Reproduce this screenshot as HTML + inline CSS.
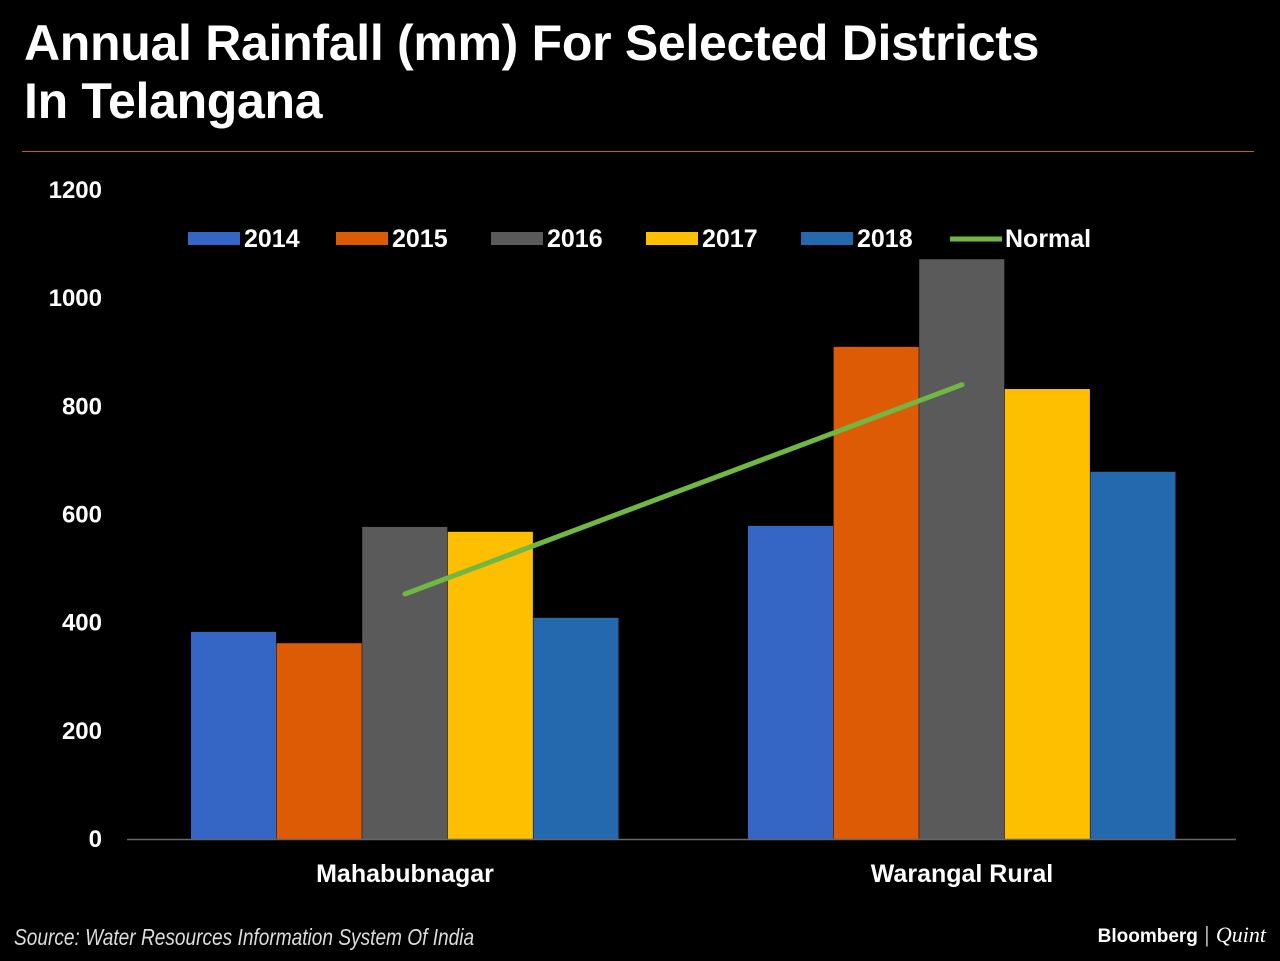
<!DOCTYPE html>
<html><head><meta charset="utf-8">
<style>
html,body{margin:0;padding:0;background:#000;width:1280px;height:961px;overflow:hidden}
body{font-family:"Liberation Sans Narrow","Liberation Sans",sans-serif;color:#fff}
#title{position:absolute;left:24px;top:14px;font-size:50px;font-weight:bold;line-height:58px;letter-spacing:-0.3px;transform:scaleX(1.0);transform-origin:left top;white-space:nowrap}
#rule{position:absolute;left:22px;top:151px;width:1232px;height:1px;background:#c8552a}
#source{position:absolute;left:14px;top:924px;font-size:23px;font-style:italic;color:#ddd;transform:scaleX(0.83);transform-origin:left top;white-space:nowrap}
#brand{position:absolute;right:14px;top:922px;font-size:22px;color:#fff;white-space:nowrap}
</style></head><body>
<div id="title">Annual Rainfall (mm) For Selected Districts<br>In Telangana</div>
<div id="rule"></div>
<svg id="chart" width="1280" height="961" style="position:absolute;left:0;top:0"></svg>
<div id="source">Source: Water Resources Information System Of India</div>
<div id="brand"><b style="font-family:'Liberation Sans',sans-serif;font-size:19px">Bloomberg</b> <span style="color:#aaa">|</span> <i style="font-family:'Liberation Serif',serif">Quint</i></div>
<script>
const categories=["Mahabubnagar","Warangal Rural"];
const seriesNames=["2014","2015","2016","2017","2018"];
const s2014=[383,579];
const s2015=[362,910];
const s2016=[577,1072];
const s2017=[568,832];
const s2018=[409,679];
const normal=[453,840];
const yTicks=[0,200,400,600,800,1000,1200];
const colors=["#3566c6","#de5b06","#5a5a5a","#fdbf00","#2468ae"];
const series=[s2014,s2015,s2016,s2017,s2018];
const svg=document.getElementById('chart');
const NS="http://www.w3.org/2000/svg";
const x0=126.5,x1=1240.5,axisEnd=1236,yBase=839,yTop=190;
function y(v){return yBase-(v/1200)*(yBase-yTop);}
const band=(x1-x0)/categories.length;
function cx(i){return x0+band*(i+0.5);}
const groupW=428,barW=groupW/series.length;
function mk(tag,attrs){const e=document.createElementNS(NS,tag);for(const k in attrs)e.setAttribute(k,attrs[k]);svg.appendChild(e);return e;}
yTicks.forEach(t=>{const e=mk('text',{x:102,y:y(t)+8,'text-anchor':'end','font-size':24,'font-weight':'bold',fill:'#fff','font-family':'Liberation Sans,sans-serif'});e.textContent=t;

});
series.forEach((s,si)=>{s.forEach((v,ci)=>{const r=mk('rect',{x:cx(ci)-groupW/2+si*barW,y:y(v),width:barW-0.5,height:yBase-y(v),fill:colors[si]});

});});
const ax=mk('line',{x1:127,y1:yBase+0.5,x2:axisEnd,y2:yBase+0.5,stroke:'#666','stroke-width':1.5});


const pl=mk('polyline',{points:normal.map((v,i)=>cx(i)+','+y(v)).join(' '),fill:'none',stroke:'#70b843','stroke-width':5,'stroke-linecap':'round'});


categories.forEach((c,i)=>{const e=mk('text',{x:cx(i),y:882,'text-anchor':'middle','font-size':25,'font-weight':'bold',fill:'#fff','font-family':'Liberation Sans,sans-serif'});e.textContent=c;

});
const legX=[188,336,491,646,801];
seriesNames.forEach((n,i)=>{const r=mk('rect',{x:legX[i],y:232,width:52,height:13,fill:colors[i]});


const t=mk('text',{x:legX[i]+56,y:247,'font-size':25,'font-weight':'bold',fill:'#fff','font-family':'Liberation Sans,sans-serif'});t.textContent=n;

});
const ll=mk('line',{x1:950,y1:239,x2:1002,y2:239,stroke:'#70b843','stroke-width':5});


const lt=mk('text',{x:1005,y:247,'font-size':25,'font-weight':'bold',fill:'#fff','font-family':'Liberation Sans,sans-serif'});lt.textContent='Normal';


</script>
</body></html>
